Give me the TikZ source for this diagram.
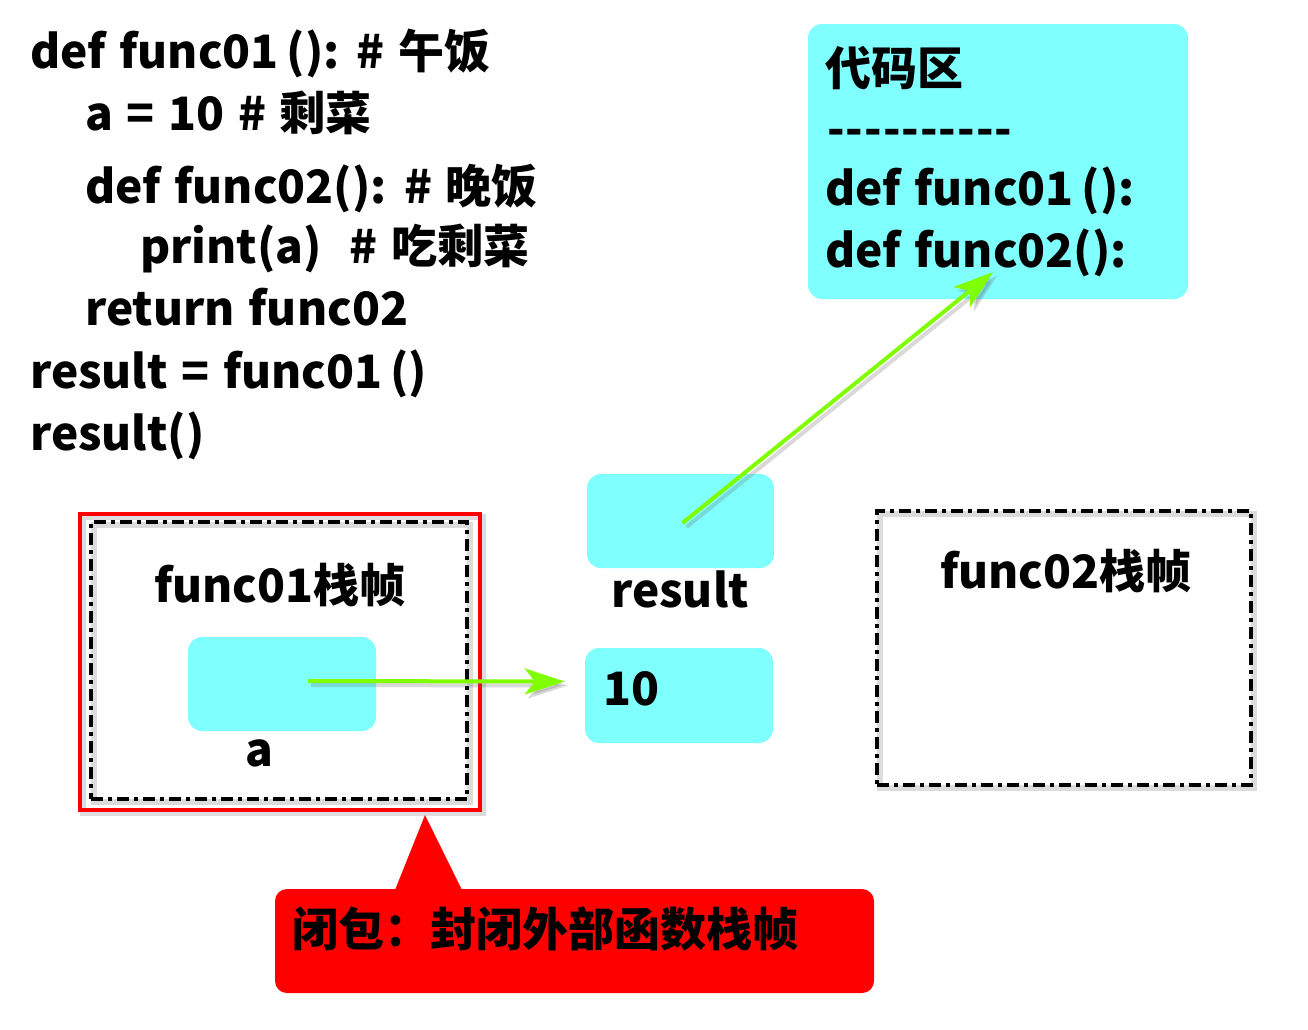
\documentclass[tikz,border=0pt]{standalone}
\usepackage{fontspec}
\setmainfont{Noto Sans CJK SC}[WordSpace=1.3]
\usetikzlibrary{arrows.meta,calc}
\definecolor{boxcyan}{HTML}{80FFFF}
\definecolor{arrgreen}{HTML}{80FF00}
\definecolor{callred}{HTML}{FF0000}
\newcommand\hy{-\kern1pt}
\tikzset{
  txt/.style={font=\fontsize{46}{52}\selectfont\bfseries, inner sep=0pt, anchor=base west},
  ctxt/.style={font=\fontsize{46}{52}\selectfont\bfseries, inner sep=0pt, anchor=base},
  cyanbox/.style={fill=boxcyan, rounded corners=14pt, draw=none, inner sep=0pt},
  dashdot/.style={draw=black, line width=3.5pt, dash pattern=on 12pt off 5pt on 4pt off 5pt},
  frameshadow/.style={draw=black!45, line width=6pt, opacity=0.3},
  garrow/.style={draw=arrgreen, line width=4pt, -{Stealth[length=40pt,width=26pt,inset=10pt]}},
  gshadow/.style={draw=black!60, line width=4pt, opacity=0.25, -{Stealth[length=40pt,width=26pt,inset=10pt]}},
}
\begin{document}
\begin{tikzpicture}[x=1pt,y=-1pt]
\useasboundingbox (0,0) rectangle (1308,1029);

% code lines
\node[txt] (l1) at (30,68) {def func01\,(): \# 午饭};
\node[txt] (l2) at (85,130) {a = 10 \# 剩菜};
\node[txt] (l3) at (85,203) {def func02(): \# 晚饭};
\node[txt] (l4) at (140,263) {print(a)\ \ \# 吃剩菜};
\node[txt] (l5) at (85,325) {return func02};
\node[txt] (l6) at (30,388) {result = func01\,()};
\node[txt] (l7) at (30,450) {result()};

% code area
\node[cyanbox, minimum width=380pt, minimum height=275pt] (code) at (998,161.5) {};
\node[txt] (c1) at (825,85) {代码区};
\node[txt] (c2) at (827,145) {\hy\hy\hy\hy\hy\hy\hy\hy\hy-};
\node[txt] (c3) at (825,205) {def func01\,():};
\node[txt] (c4) at (825,267) {def func02():};

% func01 frame
\draw[frameshadow] (83,517) rectangle (483,813);
\draw[draw=callred, line width=4pt] (80,514) rectangle (480,810);
\draw[frameshadow] (94,525) rectangle (470,802);
\node[dashdot, minimum width=376pt, minimum height=277pt, inner sep=0pt] (f1frame) at (279,660.5) {};
\node[ctxt] (f1lab) at (280,602) {func01栈帧};
\node[cyanbox, minimum width=188pt, minimum height=94pt] (abox) at (282,684) {};
\node[ctxt] (alab) at (259,766) {a};

% func02 frame
\draw[frameshadow] (880,514) rectangle (1254,788);
\node[dashdot, minimum width=374pt, minimum height=274pt, inner sep=0pt] (f2frame) at (1064,648) {};
\node[ctxt] (f2lab) at (1066,588) {func02栈帧};

% result and value boxes
\node[cyanbox, minimum width=187pt, minimum height=94pt] (rbox) at (680.5,521) {};
\node[ctxt] (rlab) at (680,607) {result};
\node[cyanbox, minimum width=188pt, minimum height=95pt] (vbox) at (679,695.5) {};
\node[txt] (vlab) at (603,705) {10};

% callout
\fill[callred] (395,890) -- (425,815) -- (462,890) -- cycle;
\node[fill=callred, rounded corners=12pt, minimum width=599pt, minimum height=104pt, inner sep=0pt] (call) at (574.5,941) {};
\node[txt] (calltxt) at (292,946) {闭包：封闭外部函数栈帧};

% arrows
\coordinate (aptr) at ($(abox.center)+(26,-3)$);
\coordinate (vptr) at ($(vbox.west)+(-20,-14)$);
\coordinate (rptr) at ($(rbox.center)+(2,2)$);
\coordinate (fptr) at (993,272);
\draw[gshadow] ($(aptr)+(3,4)$) -- ($(vptr)+(3,4)$);
\draw[garrow] (aptr) -- (vptr);
\draw[gshadow] ($(rptr)+(4,4)$) -- ($(fptr)+(4,4)$);
\draw[garrow] (rptr) -- (fptr);
\end{tikzpicture}
\end{document}
